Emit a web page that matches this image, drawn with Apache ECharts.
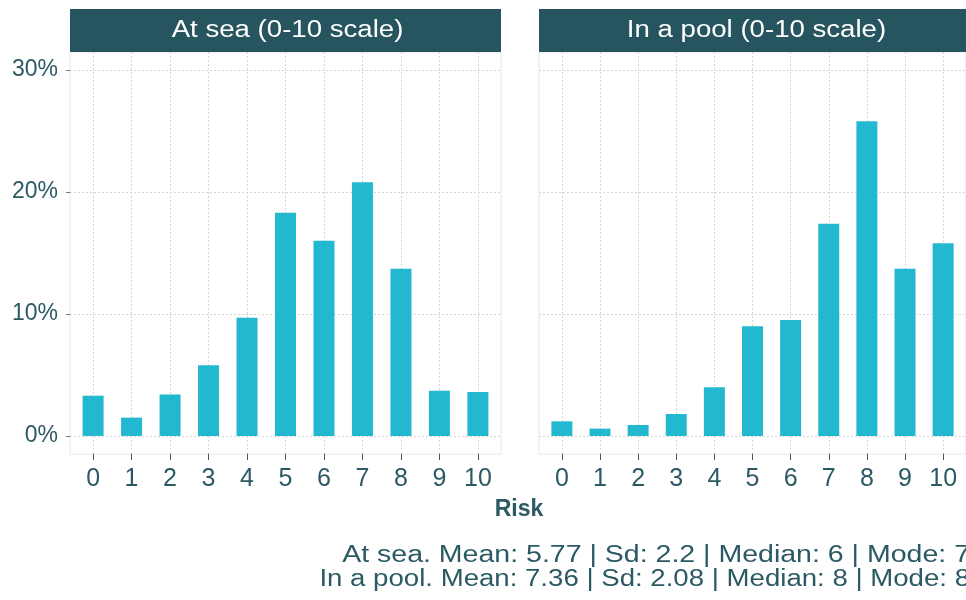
<!DOCTYPE html>
<html>
<head>
<meta charset="utf-8">
<script src="https://cdn.jsdelivr.net/npm/echarts@6/dist/echarts.min.js"></script>
<style>
html,body{margin:0;padding:0;background:#fff;}
#chart{width:966px;height:600px;}
</style>
</head>
<body>
<div id="chart"></div>
<script>
const categories = [0, 1, 2, 3, 4, 5, 6, 7, 8, 9, 10];
const seaValues = [3.3, 1.5, 3.4, 5.8, 9.7, 18.3, 16.0, 20.8, 13.7, 3.7, 3.6];
const poolValues = [1.2, 0.6, 0.9, 1.8, 4.0, 9.0, 9.5, 17.4, 25.8, 13.7, 15.8];
const yTicks = [0, 10, 20, 30];
const panelTitles = ['At sea (0-10 scale)', 'In a pool (0-10 scale)'];
const xAxisTitle = 'Risk';
const footerLines = [
  'At sea. Mean: 5.77 | Sd: 2.2 | Median: 6 | Mode: 7',
  'In a pool. Mean: 7.36 | Sd: 2.08 | Median: 8 | Mode: 8'
];

const TEXT = '#2b5964';
const HEAD = '#27555f';
const BAR = '#22b8d0';
const FONT = 'Liberation Sans, Arial, sans-serif';

const chart = echarts.init(document.getElementById('chart'), null, {renderer: 'canvas'});

const grids = [
  {left: 70, top: 52, width: 431, height: 402},
  {left: 539, top: 52, width: 431, height: 402}
];

function xAxisFor(i) {
  return {
    type: 'value', gridIndex: i, min: -0.6, max: 10.6, position: 'bottom',
    axisLine: {show: false, onZero: false},
    axisTick: {show: true, length: 6, customValues: categories, lineStyle: {color: '#555'}},
    axisLabel: {customValues: categories, fontSize: 25, color: TEXT, fontFamily: FONT, margin: 13},
    splitLine: {show: true, lineStyle: {color: '#d6d6d6', type: [2, 2], width: 1}}
  };
}
function yAxisFor(i) {
  return {
    type: 'value', gridIndex: i, min: -1.48, max: 31.48,
    axisLine: {show: false, onZero: false},
    axisTick: {show: i === 0, length: 4, customValues: yTicks, lineStyle: {color: '#777'}},
    axisLabel: {show: i === 0, customValues: yTicks, fontSize: 23, color: TEXT, fontFamily: FONT, margin: 12,
      formatter: v => v + '%'},
    splitLine: {show: true, lineStyle: {color: '#d6d6d6', type: [2, 2], width: 1}}
  };
}

const graphics = [];
panelTitles.forEach((t, i) => {
  const g = grids[i];
  graphics.push({
    type: 'rect', shape: {x: g.left, y: 9, width: g.width, height: 43},
    style: {fill: HEAD}
  });
  graphics.push({
    type: 'text', x: g.left + g.width / 2 + 2, y: 31, scaleX: 1.2,
    style: {text: t, fill: '#ffffff', font: '23px ' + FONT, align: 'center', verticalAlign: 'middle'}
  });
});
graphics.push({
  type: 'text', x: 519, y: 510,
  style: {text: xAxisTitle, fill: TEXT, font: 'bold 23px ' + FONT, align: 'center', verticalAlign: 'middle'}
});
const footerScale = [1.24, 1.2];
footerLines.forEach((l, i) => {
  graphics.push({
    type: 'text', x: 970, y: 556 + i * 24, scaleX: footerScale[i],
    style: {text: l, fill: TEXT, font: '23px ' + FONT, align: 'right', verticalAlign: 'middle'}
  });
});

const option = {
  animation: false,
  backgroundColor: '#ffffff',
  grid: grids.map(g => Object.assign({show: true, borderColor: '#e6e6e6', borderWidth: 1, backgroundColor: 'transparent'}, g)),
  xAxis: [xAxisFor(0), xAxisFor(1)],
  yAxis: [yAxisFor(0), yAxisFor(1)],
  series: [
    {type: 'bar', xAxisIndex: 0, yAxisIndex: 0, barWidth: 21, itemStyle: {color: BAR},
     data: categories.map((c, k) => [c, seaValues[k]])},
    {type: 'bar', xAxisIndex: 1, yAxisIndex: 1, barWidth: 21, itemStyle: {color: BAR},
     data: categories.map((c, k) => [c, poolValues[k]])}
  ],
  graphic: graphics
};
chart.setOption(option);
</script>
</body>
</html>
